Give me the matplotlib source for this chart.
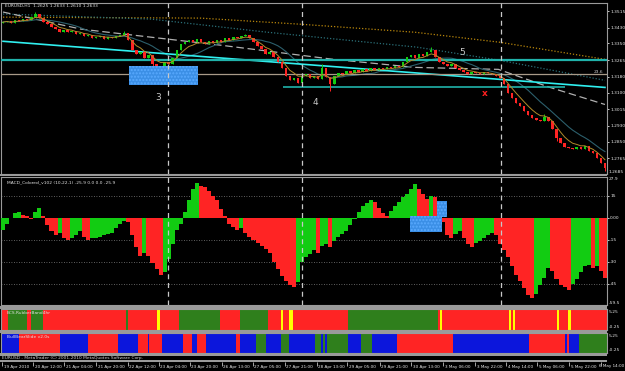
import numpy as np
import pandas as pd
import matplotlib
matplotlib.use('Agg')
import matplotlib.pyplot as plt
from matplotlib.patches import Rectangle

# --- data (EURUSD, about 2 hours per bar) ---
first_open = 1.3455
closes = [1.3459, 1.3464, 1.3453, 1.3469, 1.3464, 1.3474, 1.3469, 1.3484, 1.3500, 1.3479,
          1.3459, 1.3448, 1.3433, 1.3423, 1.3407, 1.3418, 1.3407, 1.3413, 1.3397, 1.3402,
          1.3387, 1.3392, 1.3377, 1.3382, 1.3387, 1.3372, 1.3382, 1.3377, 1.3387, 1.3392,
          1.3402, 1.3366, 1.3315, 1.3295, 1.3305, 1.3274, 1.3290, 1.3244, 1.3223, 1.3233,
          1.3254, 1.3244, 1.3274, 1.3315, 1.3346, 1.3356, 1.3366, 1.3356, 1.3372, 1.3356,
          1.3346, 1.3361, 1.3351, 1.3366, 1.3356, 1.3377, 1.3366, 1.3382, 1.3377, 1.3387,
          1.3392, 1.3377, 1.3356, 1.3336, 1.3320, 1.3295, 1.3305, 1.3279, 1.3254, 1.3223,
          1.3182, 1.3162, 1.3172, 1.3151, 1.3182, 1.3192, 1.3172, 1.3182, 1.3167, 1.3223,
          1.3177, 1.3141, 1.3182, 1.3197, 1.3192, 1.3208, 1.3197, 1.3213, 1.3203, 1.3218,
          1.3208, 1.3223, 1.3213, 1.3223, 1.3218, 1.3228, 1.3223, 1.3233, 1.3228, 1.3254,
          1.3279, 1.3290, 1.3274, 1.3295, 1.3285, 1.3305, 1.3315, 1.3279, 1.3254, 1.3244,
          1.3233, 1.3244, 1.3223, 1.3213, 1.3203, 1.3192, 1.3203, 1.3197, 1.3192, 1.3203,
          1.3197, 1.3192, 1.3182, 1.3172, 1.3141, 1.3100, 1.3070, 1.3049, 1.3029, 1.3008,
          1.2988, 1.2972, 1.2962, 1.2957, 1.2977, 1.2957, 1.2916, 1.2870, 1.2844, 1.2824,
          1.2819, 1.2814, 1.2824, 1.2814, 1.2829, 1.2803, 1.2793, 1.2767, 1.2742, 1.2716]
wick_highs = {8: 1.3512, 30: 1.3412, 60: 1.3400, 79: 1.3247, 106: 1.3333, 134: 1.2990}
wick_lows = {37: 1.3210, 38: 1.3205, 81: 1.3110, 137: 1.2855, 149: 1.2700}

macd = [-8, -4, 0, 3, 4, 2, 1, -0.5, 4, 6.5, 1, -5, -9, -12, -10, -14, -15, -14, -12, -9,
        -13, -15, -14, -14, -13, -12, -11, -10, -7, -4, -2, -3, -12, -20, -26, -24, -26, -31, -35, -39,
        -37, -28, -18, -8, -4, 4, 12, 20, 24, 22, 21, 18, 15, 12, 6, 1, -4, -6, -8, -7,
        -10, -13, -15, -17, -19, -21, -24, -30, -35, -40, -43, -46, -47, -44, -30, -27, -25, -22, -24, -19,
        -18, -20, -16, -13, -11, -9, -5, -1, 4, 8, 10, 12, 11, 7, 3, 1, 5, 8, 11, 14,
        16, 20, 23, 20, 16, 13, 15, 14, 8, -3, -12, -14, -11, -9, -14, -18, -20, -17, -16, -14,
        -12, -10, -12, -18, -22, -27, -33, -39, -43, -48, -53, -55, -52, -46, -41, -34, -36, -42, -46, -47,
        -49, -45, -42, -37, -33, -32, -34, -33, -36, -41]

# long lines drawn on the chart (bar, price)
ma_long_x = [0, 48.9, 73.6, 102, 123, 149]
ma_long_y = [1.3484, 1.3479, 1.3448, 1.3407, 1.3356, 1.3269]
ma_mid_x = [0, 36.6, 65.5, 102.5, 123, 149]
ma_mid_y = [1.3500, 1.3474, 1.3407, 1.3331, 1.3264, 1.3162]
dash_x = [0, 19.3, 40.8, 53.9, 81.8, 102, 122.6, 135.4, 149]
dash_y = [1.3510, 1.3423, 1.3372, 1.3341, 1.3269, 1.3228, 1.3218, 1.3126, 1.3039]
trend_x = [0, 149]
trend_y = [1.3361, 1.3126]
level_teal = 1.3265
level_fib = 1.3192
support = 1.3126
vlines_at = [40.8, 74.1, 123.3]

price_ticks = [1.3515, 1.3430, 1.3350, 1.3265, 1.3180, 1.3100, 1.3015, 1.2930, 1.2850, 1.2765, 1.2685]
macd_ticks = [27.9, 15, 0, -15, -30, -45, -59.5]
macd_tick_labels = ['27.9', '15', '0.00', '-15', '-30', '-45', '-59.5']

rb_edges = [-0.5, 1.2, 5.9, 6.9, 9.9, 30.4, 30.9, 38.0, 38.8, 43.5, 53.6, 58.6, 65.5, 68.9, 69.4,
            70.7, 71.7, 85.5, 107.7, 108.2, 108.7, 125.3, 125.8, 126.3, 126.8, 137.1, 137.6, 139.9,
            140.6, 149.5]
rb_state = ['R', 'G', 'R', 'G', 'R', 'G', 'R', 'Y', 'R', 'G', 'R', 'G', 'R', 'Y', 'R', 'Y', 'R',
            'G', 'R', 'Y', 'R', 'Y', 'R', 'Y', 'R', 'Y', 'R', 'Y', 'R']
bb_edges = [-0.5, 3.95, 14.1, 21.0, 28.4, 33.4, 35.8, 36.1, 39.3, 44.5, 46.9, 47.9, 50.2, 57.6,
            58.6, 62.5, 65.0, 68.9, 70.7, 77.1, 78.6, 79.1, 79.8, 80.3, 85.5, 88.5, 91.4, 97.6,
            111.4, 130.2, 139.1, 139.6, 140.1, 142.6, 149.5]
bb_state = ['B', 'R', 'B', 'R', 'B', 'R', 'B', 'R', 'B', 'R', 'B', 'R', 'B', 'R', 'B', 'G', 'B',
            'G', 'B', 'G', 'B', 'G', 'B', 'G', 'B', 'G', 'B', 'R', 'B', 'R', 'B', 'R', 'B', 'G']

time_ticks = [-0.25, 7.4, 15.1, 23.0, 30.9, 38.5, 46.2, 54.1, 61.8, 69.7, 77.6, 85.2, 93.2,
              101.1, 109.0, 116.9, 124.5, 132.2, 140.1, 148.0]
time_labels = ['19 Apr 2010', '20 Apr 12:00', '21 Apr 04:00', '21 Apr 20:00', '22 Apr 12:00',
               '23 Apr 04:00', '23 Apr 20:00', '26 Apr 13:00', '27 Apr 05:00', '27 Apr 21:00',
               '28 Apr 13:00', '29 Apr 05:00', '29 Apr 21:00', '30 Apr 13:00', '3 May 06:00',
               '3 May 22:00', '4 May 14:00', '5 May 06:00', '5 May 22:00', '6 May 14:00']

RED = '#ff2424'
GREEN = '#12cc12'
DKGREEN = '#2f7f1c'
BLUE = '#0c16dc'
YELLOW = '#ffff00'
GRAY = '#9a9a9a'
state_col = {'R': RED, 'G': DKGREEN, 'Y': YELLOW, 'B': BLUE}

W, H = 625, 371
fig = plt.figure(figsize=(6.25, 3.71), dpi=100, facecolor='black')
FS = 3.2


def area(x0, y0, x1, y1):
    ax = fig.add_axes([x0 / W, 1 - y1 / H, (x1 - x0) / W, (y1 - y0) / H])
    ax.set_facecolor('black')
    ax.set_xlim(-0.5, 149.5)
    ax.set_xticks([])
    for s in ax.spines.values():
        s.set_color(GRAY)
        s.set_linewidth(0.8)
    return ax


def band(y0, y1):
    fig.add_artist(Rectangle((0, 1 - y1 / H), 607 / W, (y1 - y0) / H,
                             transform=fig.transFigure, color=GRAY, lw=0))


# ---------------- main price panel ----------------
ax = area(1, 3, 607, 174)
ax.set_ylim(1.2685, 1.3556)
n = len(closes)
x = np.arange(n)
c = np.array(closes)
o = np.r_[first_open, c[:-1]]
hi = np.maximum(o, c)
lo = np.minimum(o, c)
for k, v in wick_highs.items():
    hi[k] = v
for k, v in wick_lows.items():
    lo[k] = v
cols = np.where(c >= o, GREEN, RED)
ax.vlines(x, lo, hi, colors=cols, lw=0.7, zorder=4)
ax.bar(x, np.maximum(np.abs(c - o), 0.0001), bottom=np.minimum(o, c), width=0.6,
       color=cols, lw=0, zorder=4)

fast = pd.Series(c).ewm(span=5).mean()
slow = pd.Series(c).rolling(12, min_periods=1).mean()
ax.plot(x, fast, color='#b08a2a', lw=0.7, zorder=5)
ax.plot(x, slow, color='#2c5f6c', lw=0.8, zorder=3)

ax.plot(ma_long_x, ma_long_y, color='#b8860b', lw=0.9, ls=(0, (1, 1.5)), zorder=2)
ax.plot(ma_mid_x, ma_mid_y, color='#2a6f78', lw=0.9, ls=(0, (1, 1.5)), zorder=2)
ax.plot(dash_x, dash_y, color='#b0b0b0', lw=0.9, ls=(0, (6, 3)), zorder=2)
ax.plot(trend_x, trend_y, color='#30f0f0', lw=1.2, zorder=3)
ax.axhline(level_teal, color='#20b2aa', lw=1.6, zorder=3)
ax.axhline(level_fib, color='#a89a88', lw=0.9, zorder=3)
ax.hlines(support, 69.4, 139.1, color='#20b2aa', lw=1.2, zorder=3)
ax.text(148.5, level_fib + 0.0004, '23.6', color='#d0d0d0', fontsize=FS, ha='right', va='bottom')

ax.add_patch(Rectangle((31.1, 1.3136), 17.1, 0.0097, facecolor='#3b8fe6', edgecolor='#5aaaff',
                       hatch='.....', lw=0, zorder=6))
for v in vlines_at:
    ax.axvline(v, color='#c8c8c8', lw=0.9, ls=(0, (4, 3)), zorder=7)

ax.text(38.5, 1.3075, '3', color='#c8c8c8', fontsize=6.5, ha='center', va='center')
ax.text(77.3, 1.3049, '4', color='#c8c8c8', fontsize=6.5, ha='center', va='center')
ax.text(113.7, 1.3305, '5', color='#c8c8c8', fontsize=6.5, ha='center', va='center')
ax.text(119.3, 1.3095, 'x', color='#ff2020', fontsize=6.5, ha='center', va='center',
        fontweight='bold')
ax.text(0.5, 1.3550, 'EURUSD,H1  1.2625 1.2633 1.2610 1.2633', color='#e0e0e0',
        fontsize=FS, va='top')

ax.yaxis.tick_right()
ax.set_yticks(price_ticks[:-1])
ax.set_yticklabels(['%.4f' % p for p in price_ticks[:-1]])
ax.tick_params(axis='y', colors='#e8e8e8', labelsize=FS, length=1.5, pad=0.8, width=0.6)
# last price label sits on the panel border
fig.text(609 / W, 1 - 172 / H, '%.4f' % price_ticks[-1], color='#e8e8e8', fontsize=FS,
         va='center')

# ---------------- MACD panel ----------------
band(174, 176)
am = area(1, 177, 607, 305)
am.set_ylim(-59.5, 27.9)
m = np.array(macd, dtype=float)
mcol = np.where(np.diff(np.r_[m[0] - 1, m]) >= 0, GREEN, RED)
am.bar(x, m, width=1.0, color=mcol, lw=0, zorder=3)
for lv in [15, -15, -30, -45]:
    am.axhline(lv, color='#808080', lw=0.6, ls=(0, (1, 2)), zorder=1)
am.add_patch(Rectangle((100.8, -9.9), 7.9, 11.2, facecolor='#3b8fe6', edgecolor='#5aaaff',
                       hatch='.....', lw=0, zorder=6))
am.add_patch(Rectangle((107.5, 0.7), 2.5, 10.5, facecolor='#3b8fe6', edgecolor='#5aaaff',
                       hatch='.....', lw=0, zorder=6))
for v in vlines_at:
    am.axvline(v, color='#c8c8c8', lw=0.9, ls=(0, (4, 3)), zorder=7)
am.text(1, 25.5, 'MACD_Colored_v102 (10,22,1) -25.9 0.0 0.0 -25.9', color='#e0e0e0',
        fontsize=FS, va='top')
am.yaxis.tick_right()
am.set_yticks(macd_ticks[1:-1])
am.set_yticklabels(macd_tick_labels[1:-1])
am.tick_params(axis='y', colors='#e8e8e8', labelsize=FS, length=1.5, pad=0.8, width=0.6)
fig.text(609 / W, 1 - 179 / H, macd_tick_labels[0], color='#e8e8e8', fontsize=FS, va='center')
fig.text(609 / W, 1 - 303 / H, macd_tick_labels[-1], color='#e8e8e8', fontsize=FS, va='center')

# ---------------- state strips ----------------
band(306, 309)
band(330, 333)
band(353, 356)
band(360, 362)


def strip(y0, y1, edges, states, name):
    a = area(1, y0, 607, y1)
    a.set_ylim(0, 1)
    a.set_yticks([])
    a.barh(0.5, np.diff(edges), left=edges[:-1], height=1,
           color=[state_col[s] for s in states], lw=0)
    a.text(1, 0.9, name, color='#e0e0e0', fontsize=FS, va='top')
    fig.text(609 / W, 1 - (y0 + 3) / H, '5.25', color='#e0e0e0', fontsize=FS, va='center')
    fig.text(609 / W, 1 - (y1 - 3) / H, '-0.25', color='#e0e0e0', fontsize=FS, va='center')
    return a


strip(309, 330, rb_edges, rb_state, 'BCS.RubberBand4hr')
strip(333, 353, bb_edges, bb_state, 'BullBearSlide v2.0s')

fig.text(2 / W, 1 - 358 / H, 'EURUSD - MetaTrader (C) 2001-2010 MetaQuotes Software Corp.',
         color='#d0d0d0', fontsize=FS, va='center')

# ---------------- time axis ----------------
at = area(1, 362, 607, 371)
at.set_ylim(0, 1)
at.set_yticks([])
for s in at.spines.values():
    s.set_visible(False)
at.vlines(time_ticks, 0.55, 1, color='#c0c0c0', lw=0.6)
for t, lab in zip(time_ticks[:-1], time_labels[:-1]):
    at.text(t + 0.4, 0.45, lab, color='#e8e8e8', fontsize=3.0, va='center', ha='left',
            clip_on=False)
# the last label is pushed against the right edge of the window
fig.text(624 / W, 1 - 366.5 / H, time_labels[-1], color='#e8e8e8', fontsize=3.0,
         va='center', ha='right')

fig.savefig('out.png', dpi=100, facecolor='black')
